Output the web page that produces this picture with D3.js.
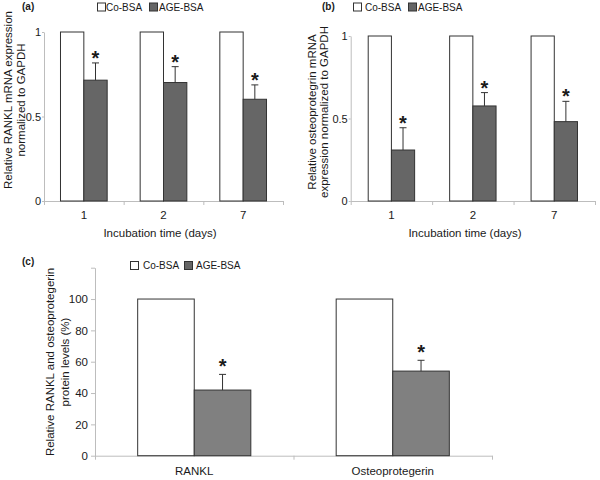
<!DOCTYPE html>
<html>
<head>
<meta charset="utf-8">
<script src="https://cdn.jsdelivr.net/npm/d3@7"></script>
<style>
  html, body { margin: 0; padding: 0; background: #fff; }
  svg { display: block; font-family: "Liberation Sans", Arial, sans-serif; }
</style>
</head>
<body>
<svg id="chart" width="600" height="480"></svg>
<script>
// ---- Data ----
const seriesNames = ["Co-BSA", "AGE-BSA"];

// Panel (a): RANKL mRNA
const daysA = ["1", "2", "7"];
const ranklCo = [1, 1, 1];
const ranklAge = [0.715, 0.701, 0.602];
const ranklAgeErr = [0.102, 0.094, 0.085];
const ticksA = [0, 0.5, 1];

// Panel (b): osteoprotegerin mRNA
const daysB = ["1", "2", "7"];
const opgCo = [1, 1, 1];
const opgAge = [0.309, 0.576, 0.481];
const opgAgeErr = [0.135, 0.081, 0.123];
const ticksB = [0, 0.5, 1];

// Panel (c): protein levels
const proteins = ["RANKL", "Osteoprotegerin"];
const protCo = [100, 100];
const protAge = [41.9, 54.0];
const protAgeErr = [10.0, 6.9];
const ticksC = [0, 20, 40, 60, 80, 100, 120];
const tickLabelsC = ["0", "20", "40", "60", "80", "100", ""];

const svg = d3.select("#chart");
const AXIS = "#bdbdbd";
const TXT = "#1a1a1a";

function panel(o) {
  const g = svg.append("g");
  const x = d3.scaleBand().domain(o.cats).range(o.xr)
    .paddingInner(o.pad).paddingOuter(o.pad / 2);
  const xs = d3.scaleBand().domain(seriesNames).range([0, x.bandwidth()]);
  const y = d3.scaleLinear().domain(o.ydom).range(o.yr);
  const idx = d3.scaleLinear().domain([0, o.cats.length]).range(o.xr);

  // x axis (boundary ticks)
  const xa = g.append("g").attr("transform", `translate(0,${o.yr[0]})`)
    .call(d3.axisBottom(idx).tickValues(d3.range(o.cats.length + 1)).tickFormat("").tickSize(4).tickSizeOuter(0));
  xa.selectAll("path,line").attr("stroke", AXIS);
  // category labels
  g.selectAll(".cat").data(o.cats).enter().append("text")
    .attr("x", d => x(d) + x.bandwidth() / 2).attr("y", o.catY)
    .attr("text-anchor", "middle").attr("font-size", 11.5).attr("fill", TXT).text(d => d);

  // y axis
  const ya = g.append("g").attr("transform", `translate(${o.xr[0]},0)`)
    .call(d3.axisLeft(y).tickValues(o.ticks).tickFormat((d, i) => o.tickLabels[i]).tickSize(o.tickSize).tickPadding(o.tickPad).tickSizeOuter(0));
  ya.selectAll("path,line").attr("stroke", AXIS);
  ya.selectAll("text").attr("font-size", o.tickFont).attr("fill", TXT).attr("font-family", "Liberation Sans, Arial, sans-serif");

  // bars
  const rows = o.cats.map((c, i) => ({ c, co: o.co[i], age: o.age[i], err: o.err[i] }));
  g.selectAll(".co").data(rows).enter().append("rect")
    .attr("x", d => x(d.c) + xs("Co-BSA")).attr("width", xs.bandwidth())
    .attr("y", d => y(d.co)).attr("height", d => y(0) - y(d.co))
    .attr("fill", "#fff").attr("stroke", "#333").attr("stroke-width", 1);
  g.selectAll(".age").data(rows).enter().append("rect")
    .attr("x", d => x(d.c) + xs("AGE-BSA")).attr("width", xs.bandwidth())
    .attr("y", d => y(d.age)).attr("height", d => y(0) - y(d.age))
    .attr("fill", o.ageColor).attr("stroke", "#333").attr("stroke-width", 1);
  // error bars
  const cx = d => x(d.c) + xs("AGE-BSA") + xs.bandwidth() / 2;
  g.selectAll(".ev").data(rows).enter().append("line")
    .attr("x1", cx).attr("x2", cx).attr("y1", d => y(d.age)).attr("y2", d => y(d.age + d.err))
    .attr("stroke", "#333").attr("stroke-width", 1);
  g.selectAll(".ec").data(rows).enter().append("line")
    .attr("x1", d => cx(d) - 3.5).attr("x2", d => cx(d) + 3.5)
    .attr("y1", d => y(d.age + d.err)).attr("y2", d => y(d.age + d.err))
    .attr("stroke", "#333").attr("stroke-width", 1);
  // asterisks
  g.selectAll(".ast").data(rows).enter().append("text")
    .attr("x", cx).attr("y", d => y(d.age + d.err) - o.astOff)
    .attr("text-anchor", "middle").attr("font-size", 20).attr("font-weight", "bold")
    .attr("fill", TXT).text("*");

  // axis titles
  if (o.xTitle) {
    g.append("text").attr("x", o.xTitle.x).attr("y", o.xTitle.y).attr("text-anchor", "middle")
      .attr("font-size", 11.5).attr("fill", TXT).text(o.xTitle.t);
  }
  o.yTitle.lines.forEach((t, i) => {
    g.append("text")
      .attr("transform", `translate(${o.yTitle.xs[i]},${o.yTitle.y}) rotate(-90)`)
      .attr("text-anchor", "middle").attr("dominant-baseline", "central")
      .attr("font-size", 11.5).attr("fill", TXT).text(t);
  });

  // panel label
  g.append("text").attr("x", o.label.x).attr("y", o.label.y)
    .attr("font-size", 10).attr("font-weight", "bold").attr("fill", TXT).text(o.label.t);

  // legend
  const L = o.legend;
  [[L.x0, L.t0, "#fff"], [L.x1, L.t1, "#666"]].forEach(([bx, tx, col], i) => {
    g.append("rect").attr("x", bx).attr("y", L.y).attr("width", 8).attr("height", 8)
      .attr("fill", col).attr("stroke", "#333").attr("stroke-width", 1);
    g.append("text").attr("x", tx).attr("y", L.y + 7.8).attr("font-size", 10)
      .attr("fill", TXT).text(seriesNames[i]);
  });
}

panel({
  cats: daysA, co: ranklCo, age: ranklAge, err: ranklAgeErr,
  xr: [44, 283], pad: 0.414, ydom: [0, 1], yr: [201, 32], ticks: ticksA, tickLabels: ["0", "0.5", "1"],
  tickSize: 2, tickPad: 1, tickFont: 11,
  catY: 218.5, ageColor: "#666", astOff: -2,
  xTitle: { x: 160, y: 237, t: "Incubation time (days)" },
  yTitle: { lines: ["Relative RANKL mRNA expression", "normalized to GAPDH"], xs: [7.5, 20.5], y: 100 },
  label: { x: 22, y: 10, t: "(a)" },
  legend: { y: 3, x0: 97.5, t0: 106, x1: 149.5, t1: 159 }
});

panel({
  cats: daysB, co: opgCo, age: opgAge, err: opgAgeErr,
  xr: [350.7, 595], pad: 0.43, ydom: [0, 1], yr: [201, 36], ticks: ticksB, tickLabels: ["0", "0.5", "1"],
  tickSize: 2, tickPad: 1, tickFont: 11,
  catY: 218.5, ageColor: "#666", astOff: -2,
  xTitle: { x: 465, y: 237, t: "Incubation time (days)" },
  yTitle: { lines: ["Relative osteoprotegrin mRNA", "expression normalized to GAPDH"], xs: [311.5, 324], y: 112 },
  label: { x: 322, y: 10, t: "(b)" },
  legend: { y: 3, x0: 353.5, t0: 365, x1: 408.5, t1: 418 }
});

panel({
  cats: proteins, co: protCo, age: protAge, err: protAgeErr,
  xr: [95, 492], pad: 0.43, ydom: [0, 120], yr: [455.7, 267.7], ticks: ticksC, tickLabels: tickLabelsC,
  tickSize: 4, tickPad: 3, tickFont: 11.5,
  catY: 475, ageColor: "#808080", astOff: 1.6,
  xTitle: null,
  yTitle: { lines: ["Relative RANKL and osteoprotegerin", "protein levels (%)"], xs: [50, 64.5], y: 362 },
  label: { x: 22, y: 265, t: "(c)" },
  legend: { y: 261.5, x0: 130.5, t0: 143, x1: 184.5, t1: 196 }
});
</script>
</body>
</html>
